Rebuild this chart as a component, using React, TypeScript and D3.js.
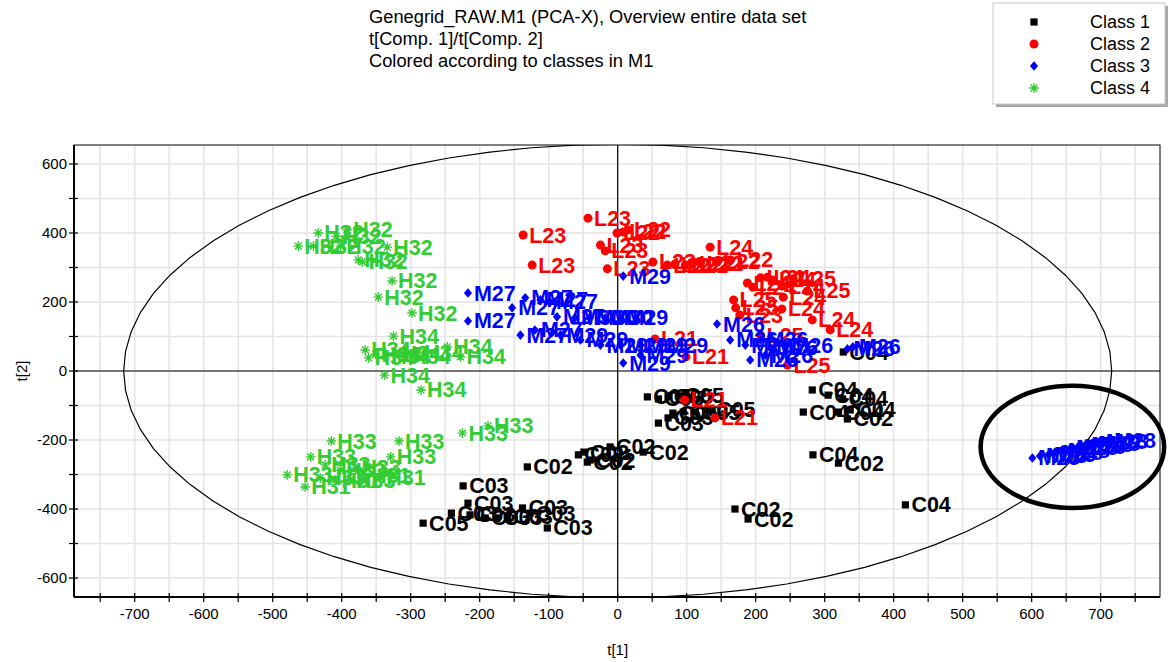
import React from "react";
import * as d3 from "d3";

const TITLE_LINES = [
  "Genegrid_RAW.M1 (PCA-X), Overview entire data set",
  "t[Comp. 1]/t[Comp. 2]",
  "Colored according to classes in M1",
];
const CLASS_NAMES = ["Class 1", "Class 2", "Class 3", "Class 4"];
const CLASS_COLORS = ["#000000", "#ff0000", "#0000ff", "#33cc33"];
const CLASS_SHAPES = ["square", "circle", "diamond", "star"];
const X_LABEL = "t[1]";
const Y_LABEL = "t[2]";
const X_TICKS = d3.range(-750, 751, 50);
const X_TICK_LABELS = d3.range(-700, 701, 100);
const Y_TICKS = d3.range(-600, 601, 100);
const Y_TICK_LABELS = d3.range(-600, 601, 200);
const X_DOMAIN = [-788, 786];
const Y_DOMAIN = [-655, 655];
// Hotelling T2 ellipse semi-axes (data units)
const T2_AXES = [716, 657];
// highlighted region (data units): cx, cy, rx, ry
const HIGHLIGHT = [659, -220, 133, 177];

type P = [number, number, string];

const class1: P[] = [
  [43, -75, "C05"], [59, -81, "C05"], [73, -75, "C05"], [88, -72, "C05"], [59, -151, "C03"],
  [80, -122, "C05"], [95, -119, "C03"], [112, -119, "C05"], [134, -113, "C05"], [73, -136, "C03"],
  [282, -55, "C04"], [269, -119, "C04"], [305, -70, "C04"], [326, -81, "C04"], [337, -113, "C04"],
  [320, -119, "C04"], [333, -139, "C02"], [283, -243, "C04"], [320, -267, "C02"], [417, -388, "C04"],
  [327, 55, "C04"], [170, -400, "C02"], [189, -429, "C02"],
  [-11, -220, "C02"], [37, -235, "C02"], [-49, -235, "C02"], [-40, -258, "C02"], [-131, -278, "C02"],
  [-57, -243, "C02"], [-44, -264, "C02"],
  [-224, -333, "C03"], [-217, -383, "C03"], [-241, -412, "C03"], [-282, -441, "C05"], [-214, -417, "C03"],
  [-192, -426, "C03"], [-175, -426, "C03"], [-160, -423, "C03"], [-138, -397, "C03"], [-127, -412, "C03"],
  [-102, -455, "C03"],
];

const class2: P[] = [
  [-43, 443, "L23"], [-137, 394, "L23"], [-124, 307, "L23"], [-25, 365, "L23"], [-18, 348, "L23"],
  [-15, 296, "L23"], [-1, 400, "L22"], [8, 403, "L22"], [15, 409, "L22"], [51, 316, "L23"],
  [72, 307, "L22"], [83, 310, "L22"], [98, 307, "L22"], [109, 313, "L22"], [120, 313, "L22"],
  [134, 359, "L24"], [144, 316, "L22"], [163, 322, "L22"], [188, 255, "L24"], [196, 243, "L24"],
  [207, 270, "L24"], [217, 272, "L24"], [225, 264, "L24"], [238, 246, "L24"], [254, 267, "L25"],
  [275, 232, "L25"], [240, 214, "L24"], [168, 206, "L25"], [171, 183, "L25"], [238, 180, "L24"],
  [282, 148, "L24"], [308, 119, "L24"], [246, 17, "L25"], [54, 93, "L21"], [99, 41, "L21"],
  [97, -84, "L21"], [141, -136, "L21"], [207, 104, "L25"], [177, 162, "L23"],
];

const class3: P[] = [
  [-217, 226, "M27"], [-217, 145, "M27"], [-134, 212, "M27"], [-153, 183, "M27"], [-141, 104, "M27"],
  [-112, 206, "M27"], [-98, 200, "M27"], [-88, 157, "M27"], [-62, 154, "M30"], [-40, 154, "M30"],
  [-18, 154, "M30"], [4, 154, "M29"], [-120, 119, "M27"], [-83, 104, "M29"], [-54, 90, "M29"],
  [-25, 75, "M29"], [4, 75, "M29"], [33, 75, "M29"], [62, 75, "M29"], [8, 275, "M29"],
  [8, 23, "M29"], [33, 46, "M29"],
  [144, 136, "M26"], [163, 90, "M26"], [185, 75, "M26"], [207, 90, "M26"], [221, 67, "M26"],
  [243, 75, "M26"], [192, 32, "M26"], [214, 46, "M26"], [333, 64, "M26"], [341, 70, "M26"],
  [601, -252, "M25"], [612, -246, "M25"], [624, -243, "M25"], [634, -235, "M28"], [644, -229, "M28"],
  [656, -223, "M28"], [667, -220, "M28"], [678, -214, "M28"], [688, -209, "M28"], [699, -203, "M28"],
  [711, -200, "M28"],
];

const class4: P[] = [
  [-434, 400, "H32"], [-392, 409, "H32"], [-408, 391, "H32"], [-463, 362, "H32"], [-441, 362, "H32"],
  [-402, 362, "H32"], [-334, 359, "H32"], [-376, 322, "H32"], [-370, 316, "H32"], [-327, 261, "H32"],
  [-347, 214, "H32"], [-298, 168, "H32"],
  [-325, 101, "H34"], [-366, 61, "H34"], [-361, 38, "H34"], [-351, 49, "H34"], [-337, 43, "H34"],
  [-322, 52, "H34"], [-308, 41, "H34"], [-289, 55, "H34"], [-247, 70, "H34"], [-228, 41, "H34"],
  [-338, -12, "H34"], [-285, -55, "H34"],
  [-415, -203, "H33"], [-317, -203, "H33"], [-225, -180, "H33"], [-188, -159, "H33"], [-445, -249, "H33"],
  [-329, -249, "H33"], [-479, -301, "H33"], [-453, -336, "H31"], [-424, -272, "H33"], [-402, -287, "H33"],
  [-380, -281, "H33"], [-409, -316, "H31"], [-388, -316, "H33"], [-366, -304, "H31"], [-344, -310, "H31"],
  [-431, -310, "H33"],
];

const CLASSES = [class1, class2, class3, class4];

const W = 1170, H = 662;
const M = { left: 74, right: 1160, top: 145, bottom: 597 };

function Marker({ shape, color, cx, cy, s = 1 }: { shape: string; color: string; cx: number; cy: number; s?: number }) {
  if (shape === "square") return <rect x={cx - 3.6 * s} y={cy - 3.6 * s} width={7.2 * s} height={7.2 * s} fill={color} />;
  if (shape === "circle") return <circle cx={cx} cy={cy} r={4.5 * s} fill={color} />;
  if (shape === "diamond") {
    const r = 4.8 * s;
    return <path d={`M${cx},${cy - r}L${cx + r * 0.85},${cy}L${cx},${cy + r}L${cx - r * 0.85},${cy}Z`} fill={color} />;
  }
  const r = 4.8 * s;
  let d = "";
  for (let i = 0; i < 4; i++) {
    const a = (i * Math.PI) / 4;
    d += `M${cx - r * Math.cos(a)},${cy - r * Math.sin(a)}L${cx + r * Math.cos(a)},${cy + r * Math.sin(a)}`;
  }
  return <path d={d} stroke={color} strokeWidth={1.4} fill="none" />;
}

export default function App() {
  const x = d3.scaleLinear().domain(X_DOMAIN).range([M.left, M.right]);
  const y = d3.scaleLinear().domain(Y_DOMAIN).range([M.bottom, M.top]);

  const ell = d3.range(0, 73).map((i) => {
    const t = (i / 72) * Math.PI * 2;
    return [T2_AXES[0] * Math.cos(t), T2_AXES[1] * Math.sin(t)] as [number, number];
  });
  const ellPath = d3.line<[number, number]>().x((d) => x(d[0])).y((d) => y(d[1]))(ell) || "";

  const [hcx, hcy, hrx, hry] = HIGHLIGHT;

  return (
    <svg width={W} height={H} style={{ position: "absolute", left: 0, top: 0, background: "#fff" }} fontFamily="Liberation Sans, Arial, sans-serif">
      <defs>
        <clipPath id="plotclip">
          <rect x={M.left} y={M.top} width={M.right - M.left} height={M.bottom - M.top} />
        </clipPath>
      </defs>
      {/* title */}
      {TITLE_LINES.map((t, i) => (
        <text key={t} x={369} y={23 + i * 22} fontSize={18.3} fill="#000">{t}</text>
      ))}
      {/* legend */}
      <rect x={996} y={6} width={172} height={101} fill="#a8a8a8" />
      <rect x={993} y={3} width={172} height={101} fill="#fff" stroke="#c8c8c8" />
      {CLASS_NAMES.map((n, i) => (
        <g key={n}>
          <Marker shape={CLASS_SHAPES[i]} color={CLASS_COLORS[i]} cx={1034} cy={22 + i * 22} />
          <text x={1090} y={28 + i * 22} fontSize={18}>{n}</text>
        </g>
      ))}
      {/* grid */}
      <g stroke="#e4e4e4" strokeWidth={1.5}>
        {X_TICKS.map((t) => (
          <line key={"gx" + t} x1={x(t)} x2={x(t)} y1={M.top} y2={M.bottom} />
        ))}
        {Y_TICKS.map((t) => (
          <line key={"gy" + t} x1={M.left} x2={M.right} y1={y(t)} y2={y(t)} />
        ))}
      </g>
      <g clipPath="url(#plotclip)">
        <path d={ellPath} fill="none" stroke="#000" strokeWidth={1.2} />
        <line x1={x(0)} x2={x(0)} y1={M.top} y2={M.bottom} stroke="#000" strokeWidth={1.2} />
        <line x1={M.left} x2={M.right} y1={y(0)} y2={y(0)} stroke="#000" strokeWidth={1.2} />
      </g>
      {/* points */}
      {CLASSES.map((pts, ci) => (
        <g key={"c" + ci}>
          {pts.map((p, j) => (
            <g key={j}>
              <Marker shape={CLASS_SHAPES[ci]} color={CLASS_COLORS[ci]} cx={x(p[0])} cy={y(p[1])} />
              <text x={x(p[0]) + 6} y={y(p[1]) + 7.5} fontSize={21.5} fontWeight="bold" fill={CLASS_COLORS[ci]}>{p[2]}</text>
            </g>
          ))}
        </g>
      ))}
      {/* frame */}
      <rect x={M.left} y={M.top} width={M.right - M.left} height={M.bottom - M.top} fill="none" stroke="#000" strokeWidth={1} />
      <line x1={M.left} x2={M.left} y1={M.top} y2={M.bottom} stroke="#000" strokeWidth={2} />
      <line x1={M.left} x2={M.right} y1={M.bottom} y2={M.bottom} stroke="#000" strokeWidth={2} />
      {/* ticks */}
      {X_TICKS.map((t) => (
        <line key={"tx" + t} x1={x(t)} x2={x(t)} y1={M.bottom - 4} y2={M.bottom + 5} stroke="#000" strokeWidth={1.2} />
      ))}
      {X_TICK_LABELS.map((t) => (
        <text key={"lx" + t} x={x(t)} y={619} fontSize={15} textAnchor="middle">{t}</text>
      ))}
      {Y_TICKS.map((t) => (
        <line key={"ty" + t} x1={M.left - 5} x2={M.left + 4} y1={y(t)} y2={y(t)} stroke="#000" strokeWidth={1.2} />
      ))}
      {Y_TICK_LABELS.map((t) => (
        <text key={"ly" + t} x={67} y={y(t) + 5} fontSize={15} textAnchor="end">{t}</text>
      ))}
      <text x={x(0)} y={655} fontSize={15} textAnchor="middle">{X_LABEL}</text>
      <text transform={`translate(27,${y(0)}) rotate(-90)`} fontSize={15} textAnchor="middle">{Y_LABEL}</text>
      {/* highlight annotation */}
      <ellipse cx={x(hcx)} cy={y(hcy)} rx={x(hcx + hrx) - x(hcx)} ry={y(hcy) - y(hcy + hry)} fill="none" stroke="#000" strokeWidth={4.5} />
    </svg>
  );
}
